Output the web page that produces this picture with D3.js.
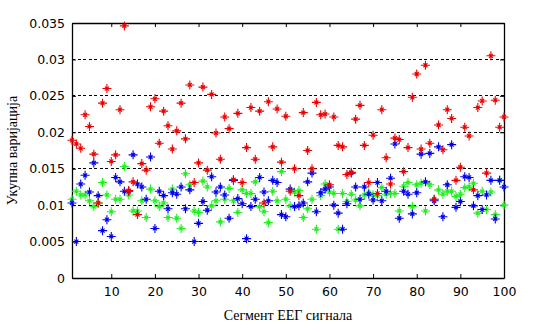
<!DOCTYPE html>
<html><head><meta charset="utf-8">
<script src="https://cdn.jsdelivr.net/npm/d3@7"></script>
<style>html,body{margin:0;padding:0;background:#fff;}svg{display:block;}</style>
</head><body>
<svg id="chart" width="538" height="332"></svg>
<script>
const segments = d3.range(1, 101);
const redValues = [0.0189,0.0184,0.0178,0.0224,0.0208,0.0170,0.0103,0.0240,0.0260,0.0160,
0.0169,0.0231,0.0346,0.0120,0.0132,0.0087,0.0157,0.0148,0.0235,0.0246,
0.0185,0.0229,0.0209,0.0177,0.0202,0.0240,0.0191,0.0265,0.0131,0.0158,
0.0262,0.0148,0.0252,0.0199,0.0163,0.0221,0.0205,0.0135,0.0226,0.0131,
0.0179,0.0234,0.0163,0.0229,0.0103,0.0242,0.0180,0.0232,0.0159,0.0222,
0.0119,0.0150,0.0113,0.0227,0.0175,0.0150,0.0241,0.0224,0.0225,0.0128,
0.0221,0.0182,0.0180,0.0142,0.0145,0.0218,0.0237,0.0182,0.0131,0.0196,
0.0116,0.0231,0.0165,0.0129,0.0192,0.0190,0.0146,0.0179,0.0248,0.0280,
0.0177,0.0292,0.0185,0.0108,0.0210,0.0176,0.0231,0.0219,0.0134,0.0152,
0.0207,0.0195,0.0121,0.0234,0.0243,0.0144,0.0305,0.0244,0.0207,0.0221];
const blueValues = [0.0103,0.0050,0.0129,0.0141,0.0118,0.0158,0.0113,0.0065,0.0080,0.0057,
0.0138,0.0132,0.0119,0.0119,0.0169,0.0129,0.0125,0.0108,0.0166,0.0068,
0.0119,0.0113,0.0095,0.0117,0.0115,0.0125,0.0095,0.0121,0.0050,0.0075,
0.0105,0.0093,0.0139,0.0118,0.0125,0.0114,0.0082,0.0134,0.0109,0.0102,
0.0054,0.0098,0.0108,0.0138,0.0118,0.0106,0.0134,0.0131,0.0087,0.0084,
0.0122,0.0098,0.0099,0.0103,0.0132,0.0144,0.0091,0.0117,0.0122,0.0125,
0.0100,0.0089,0.0067,0.0102,0.0144,0.0125,0.0108,0.0125,0.0115,0.0107,
0.0131,0.0106,0.0119,0.0137,0.0184,0.0082,0.0119,0.0115,0.0088,0.0117,
0.0170,0.0132,0.0171,0.0106,0.0180,0.0084,0.0128,0.0183,0.0097,0.0105,
0.0139,0.0138,0.0099,0.0113,0.0094,0.0114,0.0134,0.0081,0.0134,0.0125];
const greenValues = [0.0108,0.0119,0.0114,0.0114,0.0106,0.0098,0.0103,0.0131,0.0114,0.0091,
0.0108,0.0108,0.0153,0.0114,0.0092,0.0092,0.0106,0.0083,0.0122,0.0106,
0.0098,0.0103,0.0083,0.0122,0.0082,0.0068,0.0143,0.0128,0.0092,0.0090,
0.0133,0.0125,0.0099,0.0106,0.0077,0.0108,0.0123,0.0106,0.0090,0.0121,
0.0116,0.0116,0.0132,0.0098,0.0091,0.0076,0.0119,0.0106,0.0146,0.0108,
0.0099,0.0118,0.0120,0.0083,0.0095,0.0108,0.0067,0.0113,0.0129,0.0118,
0.0116,0.0067,0.0116,0.0105,0.0115,0.0107,0.0099,0.0114,0.0117,0.0114,
0.0113,0.0124,0.0115,0.0116,0.0116,0.0092,0.0126,0.0131,0.0098,0.0128,
0.0130,0.0092,0.0128,0.0108,0.0121,0.0115,0.0119,0.0119,0.0112,0.0115,
0.0124,0.0125,0.0130,0.0089,0.0119,0.0094,0.0118,0.0087,0.0134,0.0100];
const xTicks = [10,20,30,40,50,60,70,80,90,100];
const yTicks = [0,0.005,0.01,0.015,0.02,0.025,0.03,0.035];
const yTickLabels = ["0","0.005","0.01","0.015","0.02","0.025","0.03","0.035"];
const xLabel = "Сегмент ЕЕГ сигнала";
const yLabel = "Укупна варијација";

const svg = d3.select("#chart");
const L = 72, R = 504, T = 23, B = 278;
const x = d3.scaleLinear().domain([1,100]).range([L,R]);
const y = d3.scaleLinear().domain([0,0.035]).range([B,T]);
const font = "'Liberation Serif', 'Times New Roman', serif";
const tickFont = "'DejaVu Sans', sans-serif";

// grid
svg.append("g").selectAll("line").data(yTicks.filter(v => v > 0 && v < 0.035)).join("line")
  .attr("x1", L).attr("x2", R).attr("y1", d => y(d)).attr("y2", d => y(d))
  .attr("stroke", "#000").attr("stroke-width", 1).attr("stroke-dasharray", "3,2.5")
  .attr("shape-rendering", "crispEdges");

// axes
const fmt = d => yTickLabels[yTicks.indexOf(d)];
const gB = svg.append("g").attr("transform", `translate(0,${B})`)
  .call(d3.axisBottom(x).tickValues(xTicks).tickSizeInner(-4).tickSizeOuter(0).tickPadding(9));
const gT = svg.append("g").attr("transform", `translate(0,${T})`)
  .call(d3.axisTop(x).tickValues(xTicks).tickSizeInner(-4).tickSizeOuter(0).tickFormat(""));
const gL = svg.append("g").attr("transform", `translate(${L},0)`)
  .call(d3.axisLeft(y).tickValues(yTicks).tickFormat(fmt).tickSizeInner(-4).tickSizeOuter(0).tickPadding(7));
const gR = svg.append("g").attr("transform", `translate(${R},0)`)
  .call(d3.axisRight(y).tickValues(yTicks).tickSizeInner(-4).tickSizeOuter(0).tickFormat(""));
[gB,gT,gL,gR].forEach(g => {
  g.select(".domain").attr("stroke", "#000").attr("stroke-width", 1.3);
  g.selectAll(".tick line").attr("stroke", "#000");
  g.selectAll("text").attr("font-family", tickFont).attr("font-size", 12.5).attr("fill", "#000");
});

function star(px, py) {
  const a = 4.5, b = 2;
  return `M${px-a},${py}H${px+a}M${px},${py-a}V${py+a}M${px-b},${py-b}L${px+b},${py+b}M${px-b},${py+b}L${px+b},${py-b}`;
}
const series = [
  {vals: greenValues, color: "#22ee22"},
  {vals: blueValues, color: "#0000ee"},
  {vals: redValues, color: "#ee0000"}
];
series.forEach(s => {
  svg.append("g").selectAll("path").data(segments).join("path")
    .attr("d", (d,i) => star(x(d), y(s.vals[i])))
    .attr("stroke", s.color).attr("stroke-width", 1.1).attr("fill", "none");
});

svg.append("text").attr("x", (L+R)/2).attr("y", 320).attr("text-anchor", "middle")
  .attr("font-family", font).attr("font-size", 14).text(xLabel);
svg.append("text").attr("transform", `translate(17,${(T+B)/2}) rotate(-90)`).attr("text-anchor", "middle")
  .attr("font-family", font).attr("font-size", 14).text(yLabel);
</script>
</body></html>
